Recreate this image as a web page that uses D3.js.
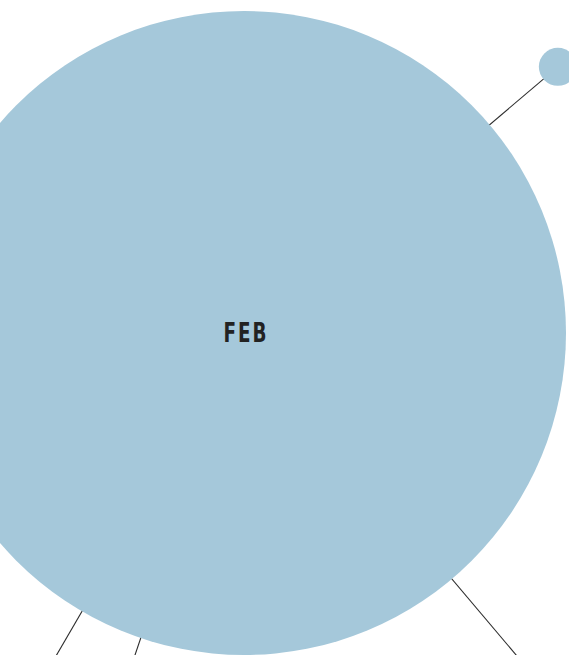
<!DOCTYPE html>
<html>
<head>
<meta charset="utf-8">
<script src="https://cdn.jsdelivr.net/npm/d3@7"></script>
<style>
html,body{margin:0;padding:0;background:#fff;overflow:hidden;}
svg{display:block;}
</style>
</head>
<body>
<svg id="chart" width="569" height="655"></svg>
<script>
// Data
const nodeNames = ["FEB", "JAN", "MAR", "APR", "MAY"];
const nodeValues = [2870, 10, 40, 30, 20];
const linkSources = ["FEB", "FEB", "FEB", "FEB"];
const linkTargets = ["JAN", "MAR", "APR", "MAY"];
// link direction (degrees) and relative link length
const linkAngles = [-40.3, 49.8, 120.2, 108.7];
const linkLengths = [411.5, 560, 520, 500];

const width = 569, height = 655;
const svg = d3.select("#chart");
const hub = {x: 244, y: 333};

const r = d3.scaleSqrt().domain([0, d3.max(nodeValues)]).range([0, 322]);

const nodes = nodeNames.map((n, i) => ({name: n, value: nodeValues[i]}));
const byName = new Map(nodes.map(d => [d.name, d]));
byName.get("FEB").x = hub.x; byName.get("FEB").y = hub.y;
linkTargets.forEach((t, i) => {
  const a = linkAngles[i] * Math.PI / 180;
  const d = byName.get(t);
  d.x = hub.x + linkLengths[i] * Math.cos(a);
  d.y = hub.y + linkLengths[i] * Math.sin(a);
});
const links = linkSources.map((s, i) => ({source: byName.get(s), target: byName.get(linkTargets[i])}));

svg.append("g").selectAll("line").data(links).join("line")
  .attr("x1", d => d.source.x).attr("y1", d => d.source.y)
  .attr("x2", d => d.target.x).attr("y2", d => d.target.y)
  .attr("stroke", "#2b2b2b").attr("stroke-width", 1.1);

svg.append("g").selectAll("circle").data(nodes).join("circle")
  .attr("cx", d => d.x).attr("cy", d => d.y)
  .attr("r", d => r(d.value))
  .attr("fill", "#a5c8da");

svg.append("text")
  .attr("transform", `translate(${hub.x + 2},${hub.y}) scale(0.68,1)`)
  .attr("text-anchor", "middle")
  .attr("dominant-baseline", "central")
  .attr("font-family", "DejaVu Sans, sans-serif")
  .attr("font-weight", "bold")
  .attr("font-size", 27)
  .attr("letter-spacing", 3)
  .attr("fill", "#222")
  .text("FEB");
</script>
</body>
</html>
